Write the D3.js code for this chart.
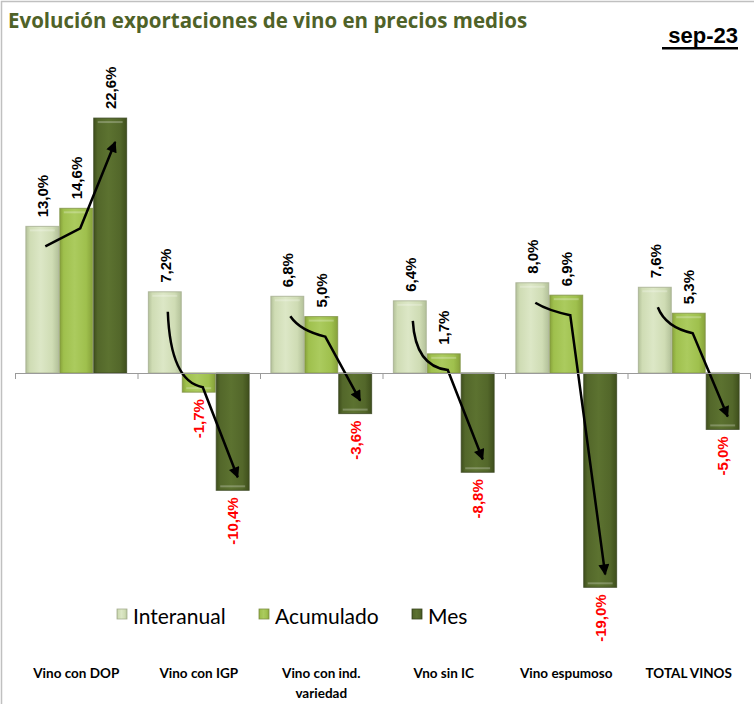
<!DOCTYPE html>
<html>
<head>
<meta charset="utf-8">
<script src="https://cdn.jsdelivr.net/npm/d3@7"></script>
<style>
  body { margin: 0; background: #fff; }
  svg { display: block; }
</style>
</head>
<body>
<script>
var width = 754,
    height = 704,
    y0 = 373;  // baseline of the bars

// data
var categories = ["Vino con DOP", "Vino con IGP", "Vino con ind. variedad", "Vno sin IC", "Vino espumoso", "TOTAL VINOS"];
var series = ["Interanual", "Acumulado", "Mes"];
var interanual = [13.0, 7.2, 6.8, 6.4, 8.0, 7.6];
var acumulado = [14.6, -1.7, 5.0, 1.7, 6.9, 5.3];
var mes = [22.6, -10.4, -3.6, -8.8, -19.0, -5.0];

var values = [interanual, acumulado, mes];

// colours: edge, mid, centre for each series
var shades = [
    ["#b3c199", "#cfdcb4", "#dce7c6"],
    ["#87a23a", "#9fc04d", "#abcb5e"],
    ["#3f4f1c", "#53672a", "#5c7230"]
];
var strokes = ["#a5ae90", "#7f9146", "#3a4620"];

var x0 = d3.scaleBand()
    .domain(categories)
    .range([15, 750]);

var x1 = d3.scaleBand()
    .domain(series)
    .range([0, x0.bandwidth()])
    .paddingInner(0.03)
    .paddingOuter(0.32);

var y = d3.scaleLinear()
    .domain([-20, 25])
    .range([y0 + 20 * 11.28, y0 - 25 * 11.28]);

var svg = d3.select("body").append("svg")
    .attr("width", width)
    .attr("height", height);

var defs = svg.append("defs");

shades.forEach(function(s, i) {
    var g = defs.append("linearGradient")
        .attr("id", "grad" + i)
        .attr("x1", "0%").attr("x2", "100%")
        .attr("y1", "0%").attr("y2", "0%");
    [[0, s[0]], [0.12, s[1]], [0.45, s[2]], [0.8, s[1]], [1, s[0]]].forEach(function(st) {
        g.append("stop").attr("offset", st[0]).attr("stop-color", st[1]);
    });
});

defs.append("marker")
    .attr("id", "arrow")
    .attr("viewBox", "0 0 10 10")
    .attr("refX", 9)
    .attr("refY", 5)
    .attr("markerUnits", "userSpaceOnUse")
    .attr("markerWidth", 12)
    .attr("markerHeight", 11)
    .attr("orient", "auto")
    .append("path")
    .attr("d", "M0,0L10,5L0,10z")
    .attr("fill", "#000");

// frame
svg.append("rect")
    .attr("x", 1.5).attr("y", 1.5)
    .attr("width", 800).attr("height", 800)
    .attr("fill", "none")
    .attr("stroke", "#c0c0c0")
    .attr("stroke-width", 1.5);

// title
svg.append("text")
    .attr("x", 8).attr("y", 28)
    .attr("font-family", "Open Sans, sans-serif")
    .attr("font-weight", "bold")
    .attr("font-size", 20.5)
    .attr("fill", "#4f6228")
    .text("Evolución exportaciones de vino en precios medios");

svg.append("text")
    .attr("x", 738).attr("y", 43)
    .attr("text-anchor", "end")
    .attr("font-family", "Liberation Sans, Arial, sans-serif")
    .attr("font-weight", "bold")
    .attr("font-size", 22)
    .attr("fill", "#000")
    .text("sep-23");
svg.append("rect")
    .attr("x", 662).attr("y", 47)
    .attr("width", 76).attr("height", 2.5)
    .attr("fill", "#000");

// bars
var group = svg.selectAll(".group")
    .data(categories)
    .enter().append("g")
    .attr("class", "group")
    .attr("transform", function(d) { return "translate(" + x0(d) + ",0)"; });

series.forEach(function(s, si) {
    group.append("rect")
        .attr("x", x1(s))
        .attr("width", x1.bandwidth())
        .attr("y", function(d, i) { return y(Math.max(0, values[si][i])); })
        .attr("height", function(d, i) { return Math.abs(y(values[si][i]) - y(0)); })
        .attr("fill", "url(#grad" + si + ")")
        .attr("stroke", strokes[si])
        .attr("stroke-opacity", 0.8)
        .attr("stroke-width", 1);

    // small highlight near the bar end
    group.append("rect")
        .attr("x", x1(s) + 4)
        .attr("width", x1.bandwidth() - 8)
        .attr("y", function(d, i) { var v = values[si][i]; return v >= 0 ? y(v) + 3 : y(v) - 5; })
        .attr("height", function(d, i) { return Math.abs(y(values[si][i]) - y(0)) > 10 ? 2 : 0; })
        .attr("fill", "#fff")
        .attr("opacity", 0.25);

    group.append("text")
        .attr("transform", function(d, i) {
            var v = values[si][i];
            var yy = v >= 0 ? y(v) - 9 : y(v) + 7;
            return "translate(" + (x1(s) + x1.bandwidth() / 2) + "," + yy + ") rotate(-90)";
        })
        .attr("dy", "0.38em")
        .attr("text-anchor", function(d, i) { return values[si][i] >= 0 ? "start" : "end"; })
        .attr("font-family", "Liberation Sans, Arial, sans-serif")
        .attr("font-weight", "bold")
        .attr("font-size", 15)
        .attr("fill", function(d, i) { return values[si][i] >= 0 ? "#000" : "#ff0000"; })
        .text(function(d, i) { return values[si][i].toFixed(1).replace(".", ",") + "%"; });
});

// axis line and ticks
svg.append("line")
    .attr("x1", x0.range()[0]).attr("x2", x0.range()[1])
    .attr("y1", y(0) + 0.5).attr("y2", y(0) + 0.5)
    .attr("stroke", "#9a9a9a")
    .attr("stroke-width", 1);

svg.selectAll(".tick")
    .data(categories.concat(["end"]))
    .enter().append("line")
    .attr("class", "tick")
    .attr("x1", function(d, i) { return x0.range()[0] + i * x0.step() + 0.5; })
    .attr("x2", function(d, i) { return x0.range()[0] + i * x0.step() + 0.5; })
    .attr("y1", y(0)).attr("y2", y(0) + 6)
    .attr("stroke", "#9a9a9a");

// trend arrows
function cx(c, s) { return x0(c) + x1(s) + x1.bandwidth() / 2; }

group.append("path")
    .attr("d", function(d, i) {
        var a = interanual[i], b = acumulado[i], c = mes[i];
        var p0 = [cx(d, "Interanual") + 3, a >= 0 ? y(a) + 20 : y(a) - 12];
        var p1 = [cx(d, "Acumulado") + 4, b >= 0 ? Math.min(y(b) + 20, y0 - 3) : y(b) - 5];
        var p2 = [cx(d, "Mes") + 5, c >= 0 ? y(c) + 24 : y(c) - 13];
        // bend more when the first leg drops steeply
        var t = Math.max(0, Math.min(1, (p1[1] - p0[1]) / 40)) * 0.85;
        var mid = [(p0[0] + p1[0]) / 2, (p0[1] + p1[1]) / 2];
        var ctl = [mid[0] + t * (p0[0] - mid[0]), mid[1] + t * (p1[1] - mid[1])];
        // coordinates are absolute, undo the group offset
        var off = x0(d);
        return "M" + (p0[0] - off) + "," + p0[1] +
            "Q" + (ctl[0] - off) + "," + ctl[1] + " " + (p1[0] - off) + "," + p1[1] +
            "L" + (p2[0] - off) + "," + p2[1];
    })
    .attr("fill", "none")
    .attr("stroke", "#000")
    .attr("stroke-width", 2.5)
    .attr("marker-end", "url(#arrow)");

// legend
var legendX = [117, 259, 412];
var legend = svg.selectAll(".legend")
    .data(series)
    .enter().append("g")
    .attr("class", "legend")
    .attr("transform", function(d, i) { return "translate(" + legendX[i] + ",609)"; });

legend.append("rect")
    .attr("width", 10).attr("height", 10)
    .attr("fill", function(d, i) { return "url(#grad" + i + ")"; })
    .attr("stroke", function(d, i) { return strokes[i]; })
    .attr("stroke-width", 0.8);

legend.append("text")
    .attr("x", 16).attr("y", 15)
    .attr("font-family", "Lato, sans-serif")
    .attr("font-size", 21)
    .attr("fill", "#000")
    .text(function(d) { return d; });

// category labels
var catLines = {"Vino con ind. variedad": ["Vino con ind.", "variedad"]};
svg.selectAll(".cat")
    .data(categories)
    .enter().append("text")
    .attr("class", "cat")
    .attr("x", function(d) { return x0(d) + x0.bandwidth() / 2; })
    .attr("y", 678)
    .attr("text-anchor", "middle")
    .attr("font-family", "Lato, sans-serif")
    .attr("font-weight", "bold")
    .attr("font-size", 13.5)
    .attr("fill", "#000")
    .each(function(d) {
        var lines = catLines[d] || [d];
        var t = d3.select(this);
        lines.forEach(function(l, k) {
            t.append("tspan")
                .attr("x", x0(d) + x0.bandwidth() / 2)
                .attr("dy", k ? 20 : 0)
                .text(l);
        });
    });
</script>
</body>
</html>
